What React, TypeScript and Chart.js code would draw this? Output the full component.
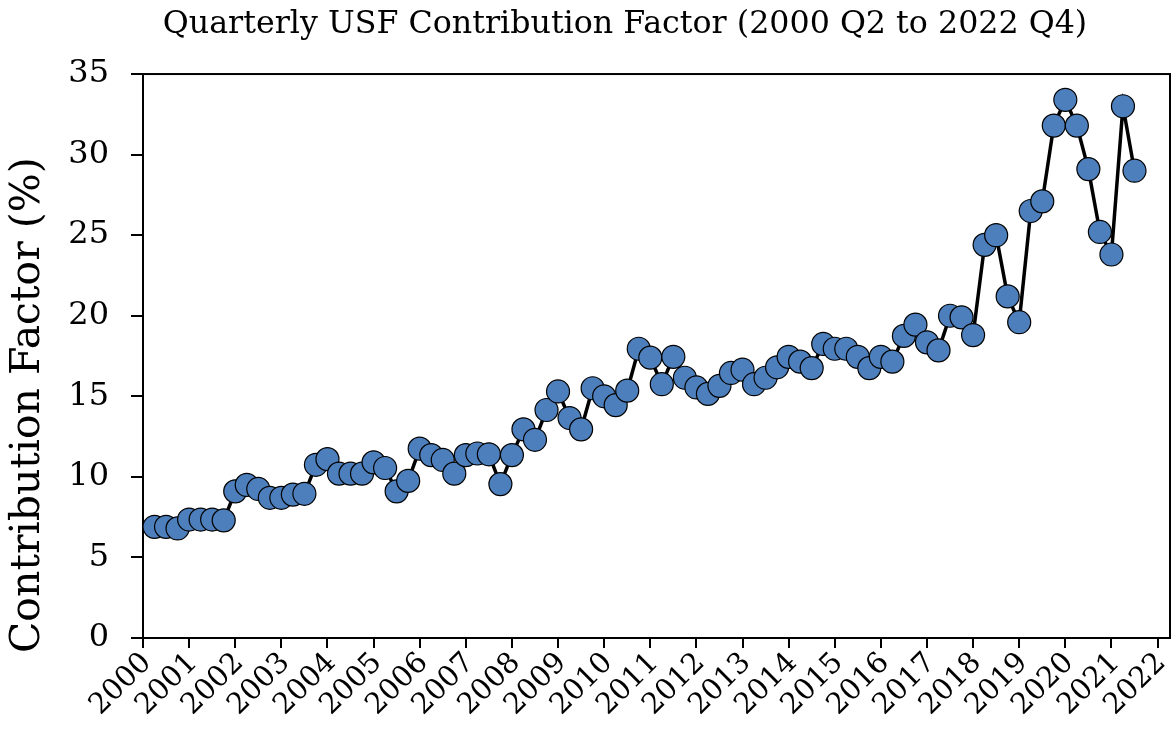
import React, { useEffect, useRef } from 'react';
import { Chart, registerables } from 'chart.js';

Chart.register(...registerables);

// Quarterly USF contribution factor (%)
const contributionFactor = [
  6.9, 6.9, 6.8, 7.35, 7.35, 7.35, 7.3, 9.1, 9.5, 9.25,
  8.7, 8.7, 8.9, 8.95, 10.75, 11.1, 10.2, 10.2, 10.2, 10.9,
  10.55, 9.1, 9.75, 11.75, 11.35, 11.05, 10.2, 11.35, 11.45, 11.4,
  9.55, 11.35, 12.95, 12.3, 14.15, 15.3, 13.65, 12.95, 15.5, 15.0,
  14.45, 15.35, 17.95, 17.4, 15.75, 17.45, 16.15, 15.55, 15.15, 15.65,
  16.45, 16.65, 15.75, 16.15, 16.8, 17.45, 17.15, 16.75, 18.25, 17.95,
  17.95, 17.45, 16.75, 17.45, 17.15, 18.75, 19.45, 18.35, 17.85, 20.0,
  19.9, 18.8, 24.4, 25.0, 21.2, 19.6, 26.5, 27.1, 31.8, 33.4,
  31.8, 29.1, 25.2, 23.8, 33.0, 29.0,
];

// first point's position on the year axis and quarter spacing
const firstPointYear = 2000.25;
const quarterStep = 0.25;

const yearTicks = [
  2000, 2001, 2002, 2003, 2004, 2005, 2006, 2007, 2008, 2009, 2010, 2011,
  2012, 2013, 2014, 2015, 2016, 2017, 2018, 2019, 2020, 2021, 2022,
];
const yTicks = [0, 5, 10, 15, 20, 25, 30, 35];

const titleText = 'Quarterly USF Contribution Factor (2000 Q2 to 2022 Q4)';
const yAxisTitle = 'Contribution Factor (%)';

const FONT = "'DejaVu Serif', serif";

const TITLE_SHIFT_X = 40;
const YTITLE_SHIFT_Y = 15;

const framePlugin = {
  id: 'frameBox',
  beforeDraw(chart: any) {
    if (chart.titleBlock) {
      chart.titleBlock.left += TITLE_SHIFT_X;
      chart.titleBlock.right += TITLE_SHIFT_X;
    }
    chart.scales.y.bottom += YTITLE_SHIFT_Y;
  },
  afterDraw(chart: any) {
    if (chart.titleBlock) {
      chart.titleBlock.left -= TITLE_SHIFT_X;
      chart.titleBlock.right -= TITLE_SHIFT_X;
    }
    chart.scales.y.bottom -= YTITLE_SHIFT_Y;
  },
  beforeDatasetsDraw(chart: any) {
    const { ctx, chartArea } = chart;
    const { left, top, right, bottom } = chartArea;
    ctx.save();
    ctx.strokeStyle = '#000';
    ctx.lineWidth = 2;
    ctx.strokeRect(left, top, right - left, bottom - top);
    ctx.restore();
  },
};

export default function App() {
  const canvasRef = useRef<HTMLCanvasElement | null>(null);

  useEffect(() => {
    if (!canvasRef.current) return;
    Chart.defaults.color = '#000';
    const points = contributionFactor.map((v, i) => ({
      x: firstPointYear + i * quarterStep,
      y: v,
    }));
    const chart = new Chart(canvasRef.current, {
      type: 'line',
      data: {
        datasets: [
          {
            data: points,
            borderColor: '#000',
            borderWidth: 3.5,
            pointRadius: 11.5,
            pointHoverRadius: 11.5,
            pointBackgroundColor: '#4c7fbc',
            pointBorderColor: '#000',
            pointBorderWidth: 1.2,
            tension: 0,
            clip: false as any,
          },
        ],
      },
      options: {
        animation: false,
        responsive: true,
        maintainAspectRatio: false,
        layout: {
          autoPadding: false,
          padding: { left: 0, right: 2, top: 0, bottom: 0 },
        },
        plugins: {
          legend: { display: false },
          tooltip: { enabled: false },
          title: {
            display: true,
            text: titleText,
            color: '#000',
            font: { family: FONT, size: 31.7, weight: 'normal' as any },
            padding: { top: 6, bottom: 30 },
          },
        },
        scales: {
          x: {
            type: 'linear',
            min: 2000,
            max: 2022.27,
            afterBuildTicks: (scale: any) => {
              scale.ticks = yearTicks.map((y) => ({ value: y }));
            },
            afterFit: (scale: any) => {
              scale.height = 96;
              scale.paddingLeft = 0;
              scale.paddingRight = 0;
            },
            ticks: {
              autoSkip: false,
              minRotation: 45,
              maxRotation: 45,
              padding: -2,
              labelOffset: 4,
              color: '#000',
              font: { family: FONT, size: 29 },
              callback: (v: any) => String(v),
            },
            grid: {
              display: true,
              drawOnChartArea: false,
              drawTicks: true,
              tickLength: 10,
              tickWidth: 2,
              tickColor: '#000',
              color: '#000',
              lineWidth: 2,
            },
            border: { display: true, color: '#000', width: 2 },
          },
          y: {
            type: 'linear',
            min: 0,
            max: 35,
            afterBuildTicks: (scale: any) => {
              scale.ticks = yTicks.map((y) => ({ value: y }));
            },
            afterFit: (scale: any) => {
              scale.width = 143;
            },
            ticks: {
              padding: 22,
              color: '#000',
              font: { family: FONT, size: 32 },
              callback: (v: any) => String(v),
            },
            grid: {
              display: true,
              drawOnChartArea: false,
              drawTicks: true,
              tickLength: 12,
              tickWidth: 2,
              tickColor: '#000',
              color: '#000',
              lineWidth: 2,
            },
            border: { display: false },
            title: {
              display: true,
              text: yAxisTitle,
              align: 'start',
              color: '#000',
              font: { family: FONT, size: 41, weight: 'normal' as any },
              padding: { top: 4, bottom: 0 },
            },
          },
        },
      },
      plugins: [framePlugin],
    });
    return () => chart.destroy();
  }, []);

  return (
    <div
      style={{
        position: 'fixed',
        left: 0,
        top: 0,
        width: 1172,
        height: 734,
        background: '#fff',
      }}
    >
      <canvas ref={canvasRef} />
    </div>
  );
}
